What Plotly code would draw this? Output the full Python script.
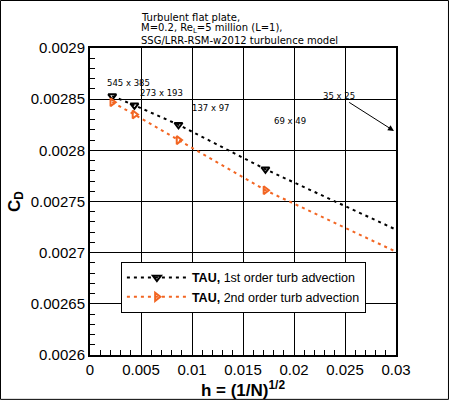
import plotly.graph_objects as go

# grid spacing h = (1/N)^(1/2) and drag coefficient
h = [0.002183, 0.004357, 0.008675, 0.01720, 0.03381]
cd_first = [0.002853, 0.002844, 0.002825, 0.0027815, 0.002705]
cd_second = [0.002847, 0.002835, 0.002810, 0.002761, 0.002683]
grid_labels = ["545 x 385", "273 x 193", "137 x 97", "69 x 49", "35 x 25"]
series_names = [
    "<b>TAU,</b> 1st order turb advection",
    "<b>TAU,</b> 2nd order turb advection",
]
title_lines = [
    "Turbulent flat plate,",
    "M=0.2, Re<sub>L</sub>=5 million (L=1),",
    "SSG/LRR-RSM-w2012 turbulence model",
]

FONT = "Liberation Sans, Arial, sans-serif"
NOTE_FONT = "DejaVu Sans, Liberation Sans, sans-serif"
ORANGE = "#F26522"

fig = go.Figure()
fig.add_trace(
    go.Scatter(
        x=h,
        y=cd_first,
        mode="lines+markers",
        name=series_names[0],
        line=dict(color="black", width=2, dash="3px,4px"),
        marker=dict(symbol="triangle-down-open", size=7, color="black", line=dict(width=2)),
    )
)
fig.add_trace(
    go.Scatter(
        x=h,
        y=cd_second,
        mode="lines+markers",
        name=series_names[1],
        line=dict(color=ORANGE, width=2, dash="3px,4px"),
        marker=dict(symbol="triangle-right-open", size=7, color=ORANGE, line=dict(width=2)),
    )
)

# grid size labels (placed near the points)
label_pos = [
    (0.00373, 0.002866),
    (0.00700, 0.002856),
    (0.01185, 0.002841),
    (0.01961, 0.002829),
]
for text, (lx, ly) in zip(grid_labels[:4], label_pos):
    fig.add_annotation(x=lx, y=ly, text=text, showarrow=False,
                       font=dict(family=NOTE_FONT, size=8.5, color="black"))
# coarsest grid is off the chart: label with an arrow
fig.add_annotation(x=0.0298, y=0.002819, ax=-55, ay=-35, text=grid_labels[4],
                   showarrow=True, arrowhead=2, arrowsize=1.2, arrowwidth=1,
                   arrowcolor="black", font=dict(family=NOTE_FONT, size=8.5, color="black"))

for i, line in enumerate(title_lines):
    fig.add_annotation(xref="paper", yref="paper", x=0.16, y=1.098 - i * 0.036,
                       xanchor="left", yanchor="middle", text=line, showarrow=False,
                       font=dict(family=NOTE_FONT, size=10, color="black"))

# outer frame of the image
fig.add_shape(type="rect", xref="paper", yref="paper",
              x0=-0.2925, x1=1.1715, y0=-0.1445, y1=1.1547,
              line=dict(color="black", width=1))

axis_common = dict(
    showline=True, linecolor="black", linewidth=2, mirror=True,
    showgrid=True, gridcolor="black", gridwidth=1, zeroline=False,
    ticks="inside", ticklen=6, tickcolor="black",
    tickformat="~g", tickfont=dict(family=FONT, size=15, color="black"),
)

fig.update_xaxes(
    range=[0, 0.03], dtick=0.005,
    minor=dict(ticks="inside", dtick=0.001, ticklen=5, tickcolor="black", showgrid=False),
    title=dict(text="<b>h = (1/N)<sup>1/2</sup></b>", standoff=0,
               font=dict(family=FONT, size=17, color="black")),
    **axis_common,
)
fig.update_yaxes(
    range=[0.0026, 0.0029], dtick=0.00005,
    minor=dict(ticks="inside", dtick=0.00001, ticklen=5, tickcolor="black", showgrid=False),
    title=dict(text="<b>C<sub>D</sub></b>", standoff=6,
               font=dict(family=FONT, size=17, color="black")),
    **axis_common,
)

fig.update_layout(
    width=450,
    height=401,
    margin=dict(l=90, r=54, t=48, b=46, autoexpand=False),
    paper_bgcolor="white",
    plot_bgcolor="white",
    font=dict(family=FONT, color="black"),
    legend=dict(
        x=0.101, y=0.303, xanchor="left", yanchor="top",
        bgcolor="white", bordercolor="black", borderwidth=1,
        font=dict(family=FONT, size=12.5, color="black"),
        itemwidth=60, tracegroupgap=0,
    ),
)

fig.write_html(
    "out.html",
    config={"displayModeBar": False},
    post_script="document.body.style.margin='0';document.body.style.overflow='hidden';",
)
